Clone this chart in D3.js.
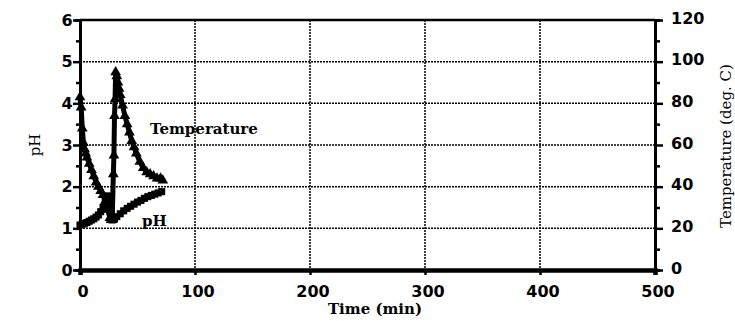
<!DOCTYPE html>
<html>
<head>
<meta charset="utf-8">
<script src="https://cdn.jsdelivr.net/npm/d3@7"></script>
<style>
  body { margin: 0; background: #fff; }
  svg { display: block; }
  .tick-label { font-family: "DejaVu Sans", sans-serif; font-size: 16px; font-weight: bold; fill: #000; }
  .title { font-family: "DejaVu Serif", serif; font-size: 15px; fill: #000; }
</style>
</head>
<body>
<svg width="735" height="321"></svg>
<script>
// values
const timeTicks = [0, 100, 200, 300, 400, 500];
const phTicks = [0, 1, 2, 3, 4, 5, 6];
const tempTicks = [0, 20, 40, 60, 80, 100, 120];

const phTime = [0, 2, 4, 6, 8, 10, 12, 14, 16, 18, 20, 22, 24, 25, 26, 27, 28, 30, 32, 35, 38, 41, 44, 47, 50, 53, 56, 59, 62, 65, 68, 71];
const phValues = [1.08, 1.1, 1.12, 1.14, 1.17, 1.2, 1.23, 1.27, 1.32, 1.4, 1.5, 1.63, 1.78, 1.72, 1.55, 1.35, 1.2, 1.23, 1.28, 1.35, 1.42, 1.48, 1.53, 1.58, 1.63, 1.67, 1.72, 1.76, 1.79, 1.82, 1.85, 1.88];

const tempTime = [0, 1, 2, 3, 4, 5, 6, 8, 10, 12, 14, 16, 18, 20, 22, 24, 26, 27, 28, 29, 29.5, 30, 30.5, 31, 32, 33, 34, 35, 37, 39, 41, 43, 45, 47, 49, 52, 55, 58, 61, 64, 67, 70, 72];
const tempValues = [83, 78, 68, 61, 58, 56, 54, 51, 48, 45, 42, 40, 38, 36, 33, 29, 25, 24, 24, 46, 55, 74, 82, 95, 93, 90, 87, 84, 79, 74, 70, 66, 62, 59, 56, 52, 49, 47, 46, 45, 44, 44, 43];

const svg = d3.select("svg");
const plotLeft = 80, plotRight = 655, plotTop = 20, plotBottom = 270;

const x = d3.scaleLinear().domain([0, 500]).range([plotLeft, plotRight]);
const yPh = d3.scaleLinear().domain([0, 6]).range([plotBottom, plotTop]);
const yTemp = d3.scaleLinear().domain([0, 120]).range([plotBottom, plotTop]);

// dotted grid
const grid = svg.append("g")
  .attr("stroke", "#000")
  .attr("stroke-width", 1.5)
  .attr("stroke-dasharray", "2,1");
grid.selectAll("line.v")
  .data(timeTicks.slice(1, -1)).enter()
  .append("line")
  .attr("x1", d => x(d)).attr("x2", d => x(d))
  .attr("y1", plotTop).attr("y2", plotBottom);
grid.selectAll("line.h")
  .data(phTicks.slice(1, -1)).enter()
  .append("line")
  .attr("x1", plotLeft).attr("x2", plotRight)
  .attr("y1", d => yPh(d)).attr("y2", d => yPh(d));

// frame
svg.append("line").attr("x1", plotLeft).attr("x2", plotRight).attr("y1", plotTop).attr("y2", plotTop)
  .attr("stroke", "#000").attr("stroke-width", 2.5);

// axes
const axisLeft = svg.append("g")
  .attr("transform", `translate(${plotLeft},0)`)
  .call(d3.axisLeft(yPh).tickValues(d3.range(0, 6.01, 0.5)).tickSize(5).tickFormat(""));
axisLeft.selectAll(".tick line").attr("stroke-width", 2.5)
  .attr("x2", d => Number.isInteger(d) ? -7 : -4);
svg.append("g").selectAll("text")
  .data(phTicks).enter()
  .append("text").attr("class", "tick-label")
  .attr("x", plotLeft - 13).attr("y", d => yPh(d)).attr("dy", "0.36em")
  .attr("text-anchor", "middle").text(d => d);

const axisRight = svg.append("g")
  .attr("transform", `translate(${plotRight},0)`)
  .call(d3.axisRight(yTemp).tickValues(d3.range(0, 121, 10)).tickSize(5).tickFormat(""));
axisRight.selectAll(".tick line").attr("stroke-width", 2.5)
  .attr("x2", d => d % 20 === 0 ? 8 : 5);
svg.append("g").selectAll("text")
  .data(tempTicks).enter()
  .append("text").attr("class", "tick-label")
  .attr("x", plotRight + 16).attr("y", d => yTemp(d) - 2).attr("dy", "0.36em")
  .attr("text-anchor", "start").text(d => d);

const axisBottom = svg.append("g")
  .attr("transform", `translate(0,${plotBottom})`)
  .call(d3.axisBottom(x).tickValues(timeTicks).tickSize(5).tickFormat(""));
axisBottom.selectAll(".tick line").attr("stroke-width", 2.5);
svg.append("g").selectAll("text")
  .data(timeTicks).enter()
  .append("text").attr("class", "tick-label")
  .attr("x", d => x(d) + 3).attr("y", plotBottom + 27)
  .attr("text-anchor", "middle").text(d => d);

svg.selectAll(".domain").attr("stroke", "#000");
axisLeft.select(".domain").attr("stroke-width", 3);
axisRight.select(".domain").attr("stroke-width", 3);
axisBottom.select(".domain").attr("stroke-width", 4.5);

// axis titles
svg.append("text").attr("class", "title").style("font-weight", "bold")
  .attr("x", 375).attr("y", 314).attr("text-anchor", "middle").text("Time (min)");
svg.append("text").attr("class", "title")
  .attr("transform", "translate(40,145) rotate(-90)")
  .attr("text-anchor", "middle").text("pH");
svg.append("text").attr("class", "title")
  .attr("transform", "translate(731,146) rotate(-90)")
  .attr("text-anchor", "middle").text("Temperature (deg. C)");

// series
const phPts = phTime.map((t, i) => [t, phValues[i]]);
const tempPts = tempTime.map((t, i) => [t, tempValues[i]]);

svg.append("path").datum(tempPts)
  .attr("fill", "none").attr("stroke", "#000").attr("stroke-width", 5)
  .attr("stroke-linejoin", "round")
  .attr("d", d3.line().x(d => x(d[0])).y(d => yTemp(d[1])));
svg.append("g").selectAll("path")
  .data(tempPts).enter()
  .append("path")
  .attr("transform", d => `translate(${x(d[0])},${yTemp(d[1])})`)
  .attr("d", d3.symbol(d3.symbolTriangle, 50));

svg.append("path").datum(phPts)
  .attr("fill", "none").attr("stroke", "#000").attr("stroke-width", 5)
  .attr("stroke-linejoin", "round")
  .attr("d", d3.line().x(d => x(d[0])).y(d => yPh(d[1])));
svg.append("g").selectAll("path")
  .data(phPts).enter()
  .append("path")
  .attr("transform", d => `translate(${x(d[0])},${yPh(d[1])})`)
  .attr("d", d3.symbol(d3.symbolSquare, 50));

// series labels
svg.append("text").attr("class", "title").style("font-weight", "bold")
  .attr("x", 150).attr("y", 134).text("Temperature");
svg.append("text").attr("class", "title").style("font-weight", "bold")
  .attr("x", 142).attr("y", 226).text("pH");
</script>
</body>
</html>
